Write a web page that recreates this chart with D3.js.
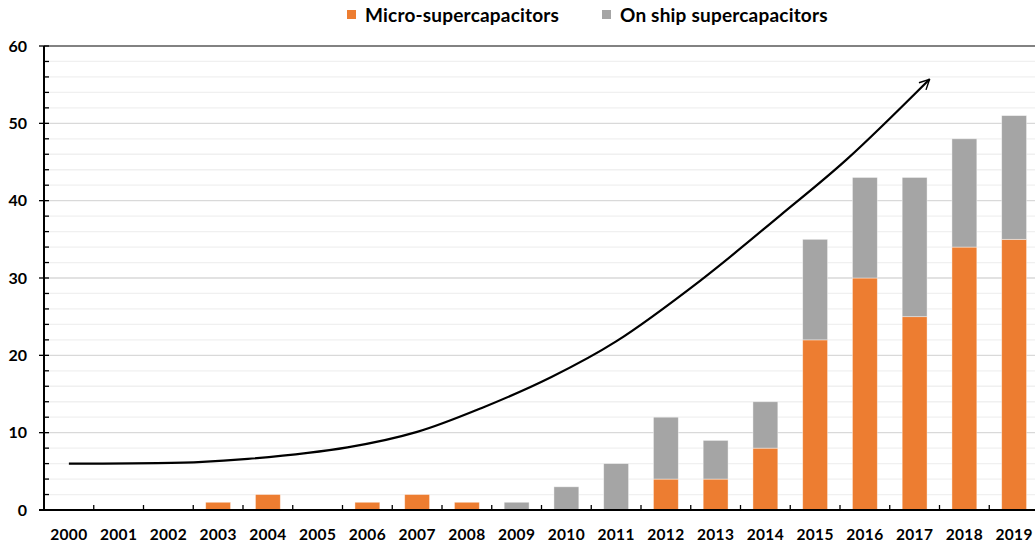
<!DOCTYPE html>
<html>
<head>
<meta charset="utf-8">
<script src="https://cdn.jsdelivr.net/npm/d3@7"></script>
<style>
  html, body { margin: 0; padding: 0; background: #fff; }
  svg { display: block; }
  text { font-family: Lato, "Liberation Sans", Arial, sans-serif; font-weight: 700; fill: #000; }
</style>
</head>
<body>
<svg id="chart" width="1035" height="544"></svg>
<script>
const years = ["2000","2001","2002","2003","2004","2005","2006","2007","2008","2009",
               "2010","2011","2012","2013","2014","2015","2016","2017","2018","2019"];
const micro  = [0,0,0,1,2,0,1,2,1,0, 0,0,4,4,8,22,30,25,34,35];
const onChip = [0,0,0,0,0,0,0,0,0,1, 3,6,8,5,6,13,13,18,14,16];
const seriesNames = ["Micro-supercapacitors", "On ship supercapacitors"];
const seriesColors = ["#ED7D31", "#A5A5A5"];
const yTicks = [0,10,20,30,40,50,60];
// hand-drawn trend arrow, x as category index, y in chart units
const trendIdx = [0, 2.6, 3.6, 5.6, 7.0, 8.3, 9.7, 11.0, 12.7, 14.3, 15.63, 17.3];
const trendVal = [6.0, 6.2, 6.6, 8.1, 10.1, 13.2, 17.2, 21.8, 29.7, 38.1, 45.3, 55.7];

const W = 1035, H = 544;
const mLeft = 44, mTop = 46, mBottom = 510;
const step = 49.75;
const svg = d3.select("#chart");

const x = d3.scaleBand().domain(years).range([mLeft, mLeft + step * years.length]).paddingInner(0.5).paddingOuter(0.25);
const y = d3.scaleLinear().domain([0, 60]).range([mBottom, mTop]);
const xi = d3.scaleLinear().domain([0, 1]).range([mLeft + step / 2, mLeft + step * 1.5]);

// gridlines
const minor = d3.range(2, 60, 2).filter(v => v % 10 !== 0);
svg.append("g").selectAll("line").data(minor).join("line")
  .attr("x1", mLeft).attr("x2", W).attr("y1", d => y(d)).attr("y2", d => y(d))
  .attr("stroke", "#f0f0f0").attr("stroke-width", 1.3);
svg.append("g").selectAll("line").data(yTicks.filter(v => v > 0 && v < 60)).join("line")
  .attr("x1", mLeft).attr("x2", W).attr("y1", d => y(d)).attr("y2", d => y(d))
  .attr("stroke", "#d9d9d9").attr("stroke-width", 1.3);
svg.append("line").attr("x1", mLeft).attr("x2", W).attr("y1", y(60)).attr("y2", y(60))
  .attr("stroke", "#595959").attr("stroke-width", 1.3);

// stacked bars
const rows = years.map((yr, i) => ({ year: yr, micro: micro[i], chip: onChip[i] }));
const stack = d3.stack().keys(["micro", "chip"])(rows);
svg.append("g").selectAll("g").data(stack).join("g")
  .attr("fill", (d, i) => seriesColors[i])
  .selectAll("rect").data(d => d.filter(p => p[1] - p[0] > 0)).join("rect")
  .attr("x", d => x(d.data.year))
  .attr("width", x.bandwidth())
  .attr("y", d => y(d[1]))
  .attr("height", d => y(d[0]) - y(d[1]))
  .attr("stroke", "#ffffff").attr("stroke-opacity", 0.5).attr("stroke-width", 0.8);

// y axis
const yAxisG = svg.append("g").attr("transform", `translate(${mLeft},0)`);
yAxisG.append("line").attr("x1", 0).attr("x2", 0).attr("y1", mTop).attr("y2", mBottom)
  .attr("stroke", "#000").attr("stroke-width", 2);
yAxisG.selectAll("line.minor").data(minor).join("line").attr("class", "minor")
  .attr("x1", 0).attr("x2", 5).attr("y1", d => y(d)).attr("y2", d => y(d))
  .attr("stroke", "#000").attr("stroke-width", 1.3);
yAxisG.selectAll("line.major").data(yTicks).join("line").attr("class", "major")
  .attr("x1", -5).attr("x2", 5).attr("y1", d => y(d)).attr("y2", d => y(d))
  .attr("stroke", "#000").attr("stroke-width", 1.3);
yAxisG.selectAll("text").data(yTicks).join("text")
  .attr("x", -17).attr("y", d => y(d)).attr("dy", "0.35em")
  .attr("text-anchor", "end").style("font-size", "16px").text(d => d);

// x axis
const xAxisG = svg.append("g").attr("transform", `translate(0,${mBottom})`);
xAxisG.append("line").attr("x1", mLeft - 5).attr("x2", W).attr("y1", 0).attr("y2", 0)
  .attr("stroke", "#000").attr("stroke-width", 2);
xAxisG.selectAll("line.tick").data(d3.range(1, years.length + 1)).join("line").attr("class", "tick")
  .attr("x1", d => mLeft + d * step).attr("x2", d => mLeft + d * step).attr("y1", 0).attr("y2", -5)
  .attr("stroke", "#000").attr("stroke-width", 1.3);
xAxisG.selectAll("text").data(years).join("text")
  .attr("x", d => x(d) + x.bandwidth() / 2).attr("y", 25).attr("dy", "0.35em")
  .attr("text-anchor", "middle").style("font-size", "15.5px").style("letter-spacing", "0.3px").text(d => d);

// trend arrow
const defs = svg.append("defs");
defs.append("marker").attr("id", "arrow").attr("viewBox", "0 0 12 12")
  .attr("refX", 11).attr("refY", 6).attr("markerWidth", 12).attr("markerHeight", 12)
  .attr("markerUnits", "userSpaceOnUse").attr("orient", "auto")
  .append("path").attr("d", "M1,1 L11,6 L1,11").attr("fill", "none")
  .attr("stroke", "#000").attr("stroke-width", 1.4);
const pts = trendIdx.map((v, i) => [xi(v), y(trendVal[i])]);
svg.append("path").datum(pts)
  .attr("d", d3.line().curve(d3.curveCatmullRom.alpha(0.5)))
  .attr("fill", "none").attr("stroke", "#000").attr("stroke-width", 2.2)
  .attr("marker-end", "url(#arrow)");

// legend
const legend = svg.append("g");
const legendX = [347, 602];
seriesNames.forEach((name, i) => {
  legend.append("rect").attr("x", legendX[i]).attr("y", 10).attr("width", 9).attr("height", 9)
    .attr("fill", seriesColors[i]);
  legend.append("text").attr("x", legendX[i] + 18).attr("y", 15).attr("dy", "0.35em")
    .style("font-size", "19px").style("letter-spacing", "0.2px").text(name);
});
</script>
</body>
</html>
